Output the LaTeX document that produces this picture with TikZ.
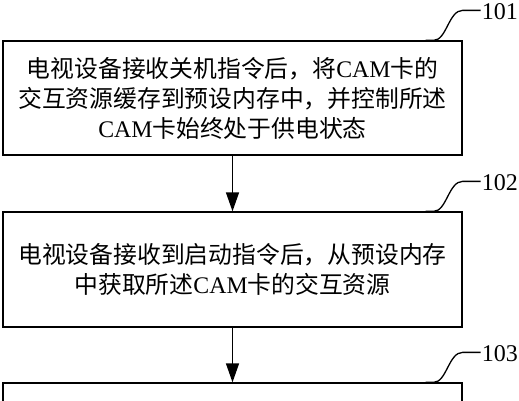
\documentclass[tikz,border=0pt]{standalone}
\usepackage{fontspec}
\setmainfont{Noto Sans CJK SC}
\newfontfamily\latin{Liberation Serif}
\usetikzlibrary{arrows.meta}
\newcommand{\cam}{{\latin CAM}}

\tikzset{
  stepbox/.style={draw, line width=1.3pt, minimum width=459pt, text width=450pt,
    align=center, inner sep=0pt, font=\fontsize{23.8}{30}\selectfont},
  steplabel/.style={font=\latin\fontsize{24}{24}\selectfont, inner sep=1pt, anchor=west},
  flow/.style={line width=1.3pt, -{Triangle[length=19pt,width=13pt]}},
  tag/.style={line width=1.3pt}
}

\begin{document}
\begin{tikzpicture}[x=1pt, y=-1pt]
  \useasboundingbox (0,0) rectangle (519,400);
  % step boxes (pixel grid, y down)
  \node[stepbox, minimum height=114pt] (step1) at (232.5, 98)
    {电视设备接收关机指令后，将\cam 卡的\\交互资源缓存到预设内存中，并控制所述\\\cam 卡始终处于供电状态};
  \node[stepbox, minimum height=115pt] (step2) at (232.5, 269.5)
    {电视设备接收到启动指令后，从预设内存\\中获取所述\cam 卡的交互资源};
  \node[stepbox, minimum height=115pt] (step3) at (232.5, 440.5) {};

  % flow arrows
  \draw[flow] (step1) -- (step2);
  \draw[flow] (step2) -- (step3);

  % step numbers with leader curves
  \foreach \i in {1,2,3} {
    \node[steplabel] (lab\i) at ([xshift=18pt, yshift=29pt]step\i.north east) {10\i};
    \coordinate (top\i) at ([xshift=-18pt, yshift=1pt]lab\i.west);
    \draw[tag] ([xshift=-37pt]step\i.north east) -- ++(8,0)
      .. controls +(13,0) and ([xshift=-14pt]top\i) .. (top\i) -- ([yshift=1pt]lab\i.west);
  }
\end{tikzpicture}
\end{document}
